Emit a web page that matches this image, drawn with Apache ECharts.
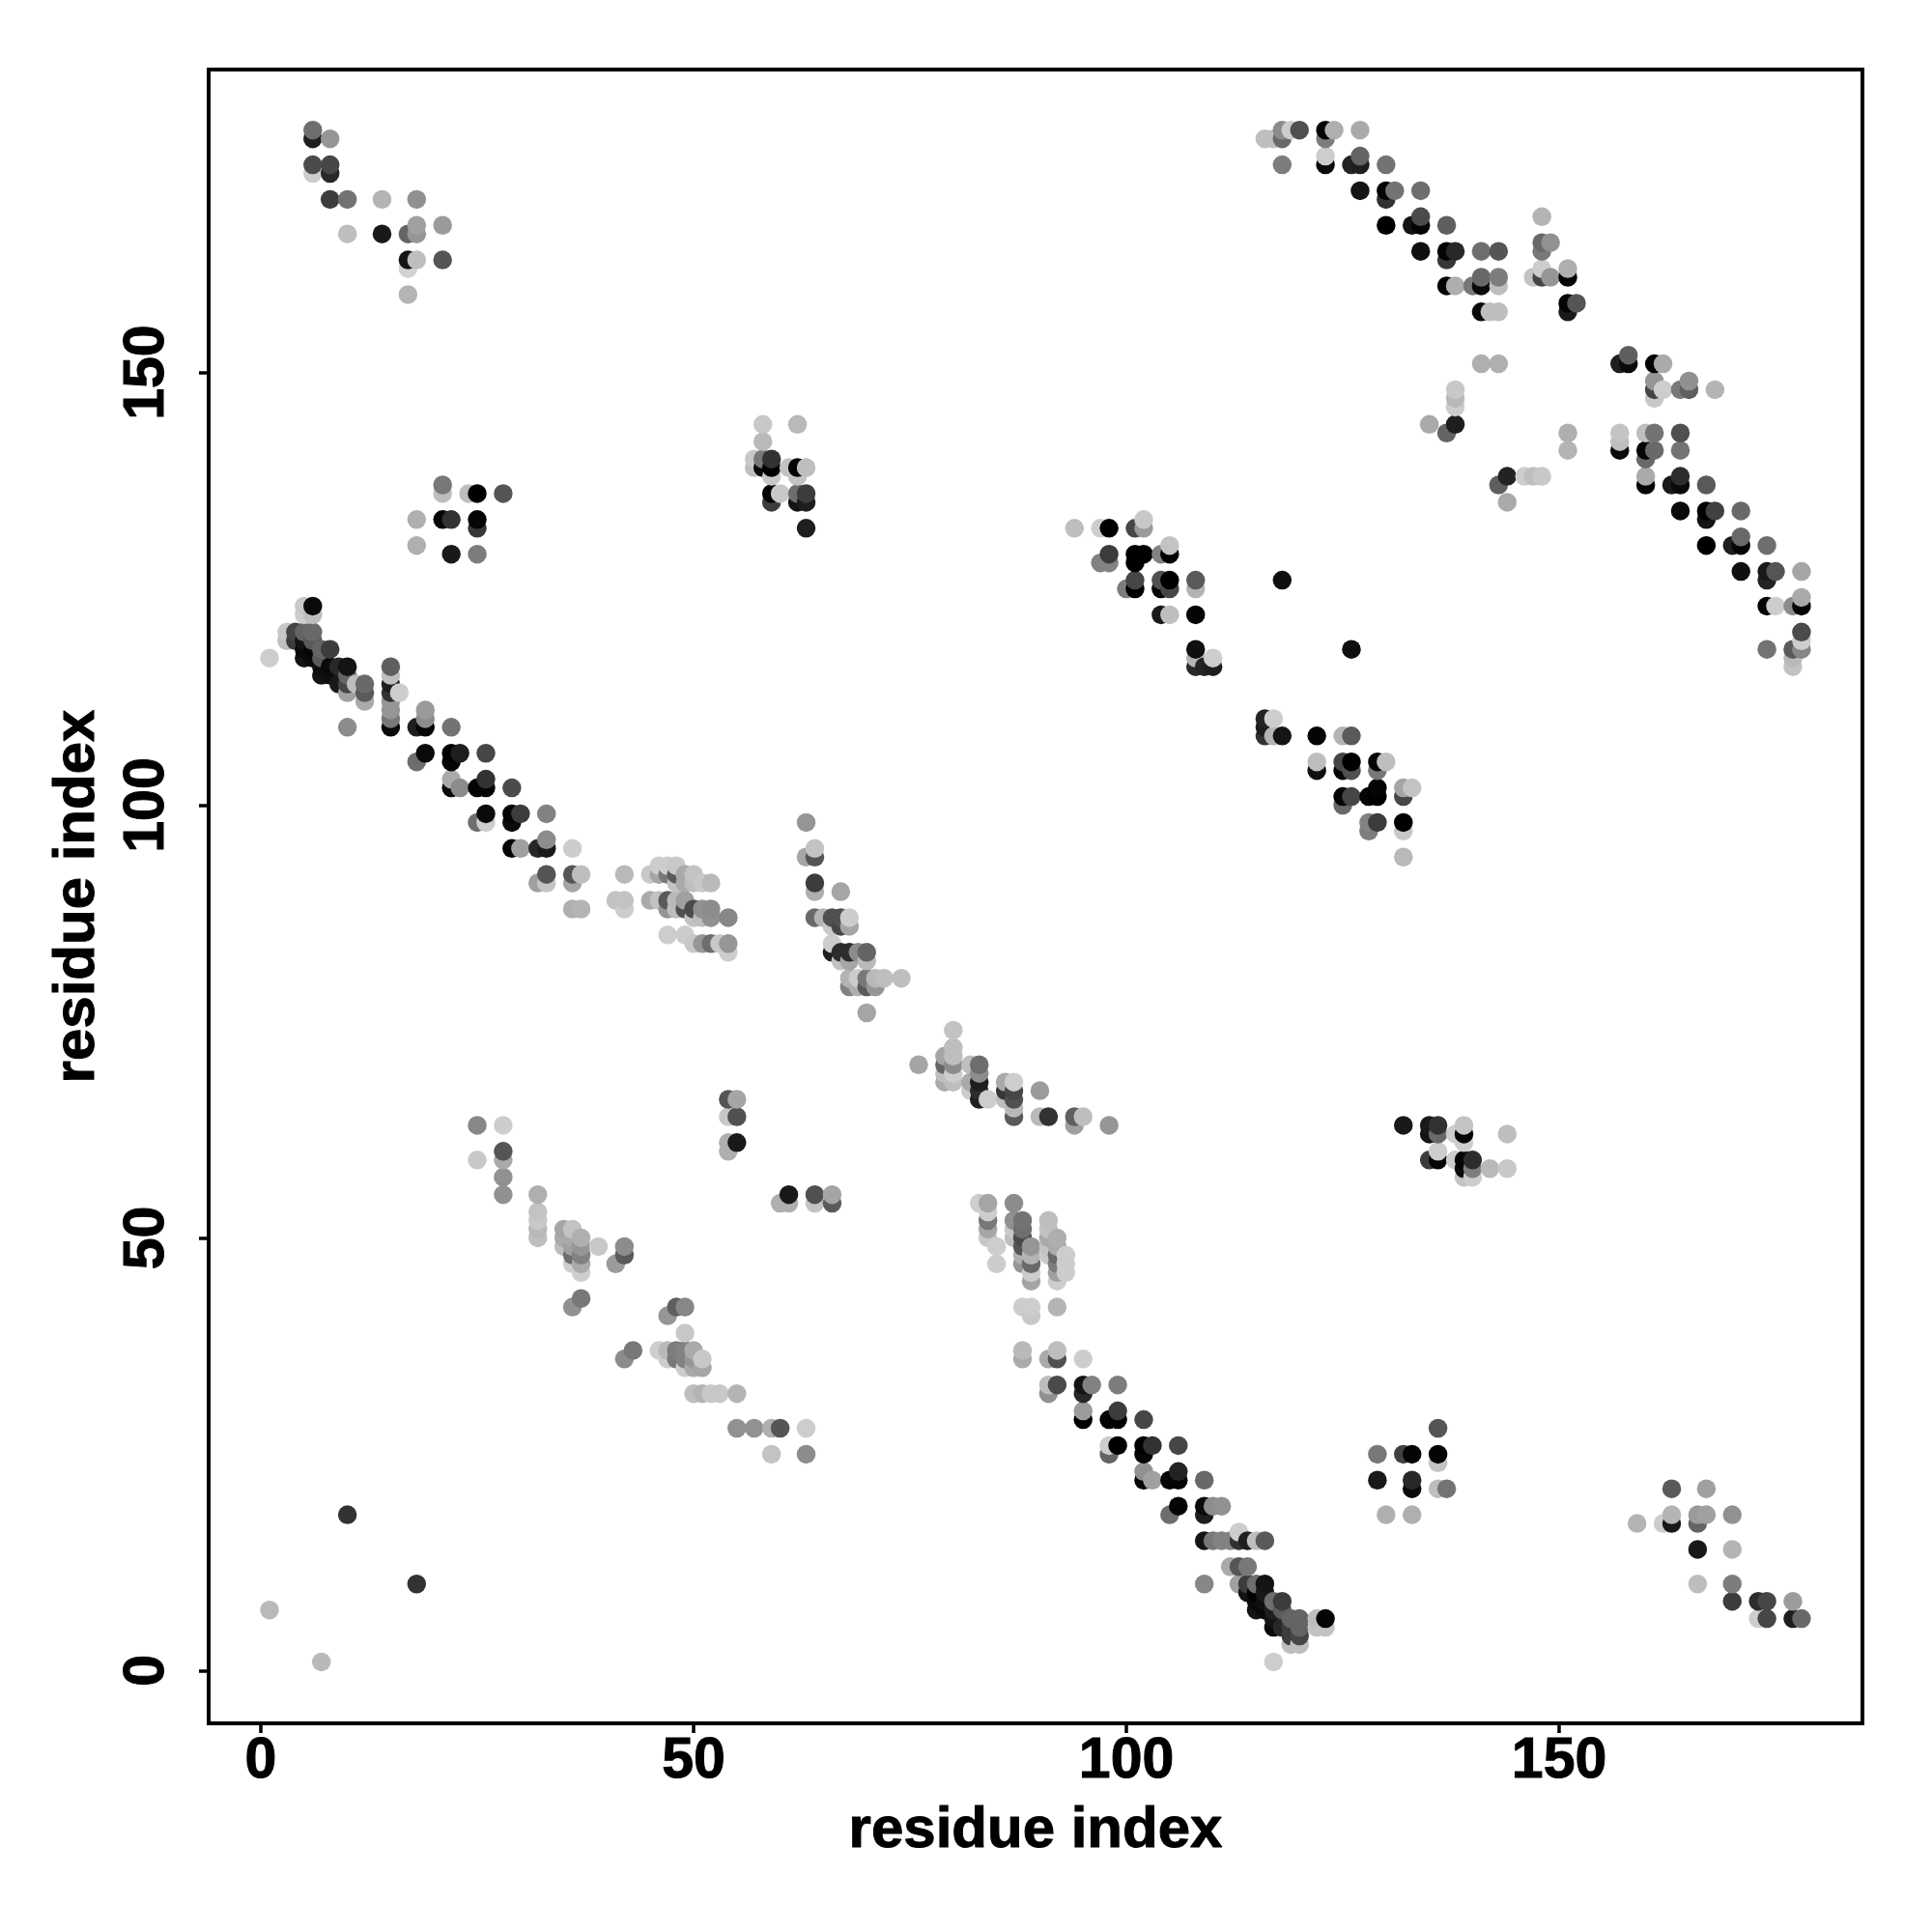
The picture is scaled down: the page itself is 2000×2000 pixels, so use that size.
<!DOCTYPE html>
<html><head><meta charset="utf-8">
<script src="https://cdn.jsdelivr.net/npm/echarts@6/dist/echarts.min.js"></script>
<style>html,body{margin:0;padding:0;background:#fff}#c{width:2000px;height:2000px}</style>
</head><body><div id="c"></div>
<script>
// each contact: [residue i, residue j, level] (level is read from the grey of the dot, 0 black .. 255 white)
const xTicks = [0, 50, 100, 150];
const yTicks = [0, 50, 100, 150];
const axisTitle = 'residue index';

const farOffDiagonal = [[1,7,185],[7,1,185],[10,18,50],[18,10,50],[118,126,15],[126,118,15]];
const topLeftA = [[6,178,110],[6,177,30],[8,177,150],[6,174,75],[6,173,205],[8,174,70],[8,173,40],[8,170,60],[10,170,115],[14,170,180],[18,170,145],
 [10,166,190],[14,166,25],[17,166,100],[18,166,150],[18,167,160],[21,167,155],[17,163,20],[18,163,190],[17,162,210],[21,163,85],[17,159,180]];
const topLeftB = [[21,137,120],[21,136,190],[24,136,190],[25,136,0],[28,136,85],[18,133,175],[21,133,5],[22,133,50],[25,133,5],[25,132,55],[18,130,175],[22,129,25],[25,129,125]];
const topMid = [[58,144,200],[62,144,185],[58,142,185],[57,140,200],[57,139,190],[58,140,120],[59,140,50],[58,139,10],[59,139,0],[59,138,200],[61,139,195],[62,139,5],[63,139,190],[62,138,195],
 [60,136,200],[59,136,5],[59,135,60],[62,136,110],[63,136,60],[62,135,20],[63,135,30],[63,132,30]];
const topRightBand = [[116,177,190],[117,177,190],[118,178,140],[118,177,105],[119,178,205],[120,178,80],[118,174,125],[123,178,5],[124,178,175],[123,177,125],[127,178,170],[123,175,205],[123,174,10],[126,174,35],[127,174,30],[127,175,100],[130,174,115],
 [127,171,20],[130,171,5],[130,170,50],[131,171,115],[134,171,110],[130,167,0],[133,167,20],[134,167,5],[134,168,75],[137,167,95],[134,164,15],[137,164,5],[137,163,55],[138,164,40],[141,164,110],[143,164,85],
 [137,160,5],[138,160,175],[140,160,120],[141,160,10],[141,161,105],[143,161,125],[143,160,190],[141,157,10],[142,157,190],[143,157,190],[141,151,175],[143,151,175]];
const topRightSpur = [[148,168,180],[148,165,105],[149,165,145],[148,164,120],[147,161,195],[148,162,205],[148,161,70],[149,161,150],[151,162,175],[151,161,5],[151,158,5],[151,157,25],[152,158,85]];
const rightBand = [[157,151,30],[158,151,10],[158,152,95],[161,151,5],[162,151,170],[161,149,150],[161,148,70],[161,147,200],[162,148,205],[164,148,120],[165,149,145],[165,148,95],[168,148,180],
 [157,143,195],[157,142,190],[157,141,10],[160,143,190],[161,143,115],[164,143,80],[160,141,5],[161,141,105],[160,140,105],[164,141,115],[160,138,170],[160,137,5],[163,137,25],[164,138,45],[164,137,10],[167,137,90],
 [164,134,10],[167,134,0],[167,133,20],[168,134,65],[171,134,105],[167,130,0],[170,130,30],[171,130,5],[171,131,105],[174,130,110],[171,127,15],[174,127,25],[174,126,35],[175,127,85],[178,127,165],
 [174,123,5],[175,123,205],[177,123,140],[178,123,5],[178,124,170],[178,120,75],[178,119,205],[178,118,135],[177,118,90],[174,118,115],[177,117,185],[177,116,195]];
const midRightSmall = [[138,148,200],[138,147,185],[138,146,205],[135,144,170],[137,143,100],[138,144,30],[151,143,175],[151,141,180],[144,138,35],[143,137,95],[146,138,205],[147,138,190],[148,138,200],[144,135,170]];
const centreUpper = [[94,132,190],[97,132,205],[98,132,0],[101,132,70],[102,132,155],[102,133,200],[98,129,60],[97,128,130],[98,128,130],[101,129,0],[102,129,0],[101,128,0],[104,129,130],[105,129,0],[105,130,195],
 [100,125,125],[101,126,70],[101,125,0],[104,126,80],[105,126,0],[104,125,5],[105,125,70],[108,126,90],[108,125,180],[104,122,25],[105,122,190],[108,122,5],[108,118,15],[108,117,180],[108,116,40],[109,116,35],[110,116,30],[110,117,205]];
const centreLower = [[116,110,35],[116,109,30],[116,108,50],[117,110,205],[117,108,180],[118,108,20],[122,108,5],[125,108,180],[126,108,90],[122,105,190],[122,104,15],[125,105,70],[126,105,0],[125,104,5],[126,104,80],
 [129,105,5],[130,105,190],[129,104,120],[132,102,165],[133,102,195],[132,101,70],[128,101,5],[129,102,5],[129,101,0],[125,101,5],[126,101,70],[125,100,105],[128,98,130],[129,98,60],[128,97,125],[132,98,0],[132,97,200],[132,94,185]];
const diagonalUpper = [[6,123,10],[5,123,200],[5,122,205],[6,122,190],[3,120,200],[3,119,190],[1,117,205],[4,120,70],[4,119,60],[5,120,100],[6,120,105],[5,119,20],[5,118,10],[5,117,20],[6,119,90],[6,118,5],[6,117,10],[7,118,100],[8,118,60],[7,117,90],[7,116,15],[7,115,20],[8,116,10],[8,115,15],[9,116,40],[10,116,20],[9,114,25],[10,115,100],[10,114,70],[10,113,160],[11,114,190],[12,114,105],[12,113,90],[12,112,170],
 [15,116,95],[15,115,190],[15,114,30],[15,113,50],[16,113,205],[15,112,150],[15,111,150],[15,110,120],[15,109,10],[10,109,140],[18,109,30],[19,109,5],[19,111,155],[19,110,140],[22,109,115],
 [19,106,10],[18,105,110],[22,106,0],[22,105,5],[23,106,30],[26,106,70],[22,103,170],[22,102,10],[23,102,140],[25,102,5],[26,103,50],[26,102,5],[29,102,75],[25,98,110],[26,99,10],[26,98,205],[29,99,5],[29,98,10],[30,99,60],[33,99,130],
 [29,95,5],[30,95,160],[32,95,40],[33,95,25],[33,96,140],[36,95,205],[33,92,85],[32,91,160],[33,91,195],[36,92,85],[37,92,190],[36,91,165],[36,88,175],[37,88,180]];
const midBandA = [[42,92,185],[41,89,195],[42,89,195],[42,88,205],[45,92,200],[46,93,205],[46,92,165],[47,93,205],[47,92,120],[48,93,200],[48,92,90],[48,91,195],[49,92,170],[49,91,170],[50,92,195],[50,91,190],[51,91,200],[52,91,185],
 [45,89,170],[46,89,195],[47,89,90],[47,88,150],[48,89,185],[48,88,190],[49,89,160],[49,88,80],[50,88,75],[50,87,195],[51,88,145],[51,87,190],[52,88,140],[52,87,145],[54,87,135],[47,85,205],[49,85,205],[50,84,200],[51,84,150],[52,84,110],[53,84,200],[54,84,150],[54,83,205]];
const midBandB = [[63,98,150],[63,94,165],[64,95,195],[64,94,85],[64,91,60],[64,90,175],[67,90,165],[64,87,105],[65,87,180],[66,87,80],[67,87,80],[68,87,205],[66,86,200],[67,86,70],[68,86,165],
 [66,84,205],[66,83,30],[67,83,45],[68,83,45],[69,83,140],[70,83,100],[67,82,195],[68,82,165],[70,82,185],[68,80,180],[69,80,205],[70,80,120],[71,80,185],[72,80,190],[74,80,190],[68,79,130],[69,79,175],[70,79,90],[71,79,150],[70,76,165]];
const midBandC = [[76,70,165],[80,74,195],[79,71,165],[80,72,190],[80,71,190],[79,70,100],[80,70,140],[79,69,190],[80,69,205],[79,68,170],[80,68,190],[82,70,190],[83,70,110],[83,69,140],[82,68,170],[83,68,30],[82,67,205],[83,67,45],[83,66,30],[84,66,205],
 [86,68,170],[87,68,205],[86,67,55],[87,67,70],[86,66,190],[87,66,80],[87,65,185],[87,64,90],[90,67,155],[90,64,185],[91,64,50],[94,64,95],[95,64,190],[94,63,160],[98,63,150]];
const lowerLeftA = [[25,63,135],[28,63,205],[25,59,200],[28,60,85],[28,59,170],[28,57,145],[28,55,145],[32,55,175],[32,53,195],[32,52,200],[32,51,185],[32,50,190],[35,51,165],[35,50,170],[35,49,190],[36,51,195],[36,50,170],[36,49,160],[36,48,110],[36,47,205],[37,50,175],[37,49,150],[37,48,130],[37,47,170],[37,46,205],[39,49,200],[42,49,140],[42,48,90],[41,47,155],[36,42,145],[37,43,120]];
const lowerLeftB = [[47,41,150],[48,42,95],[49,42,135],[49,39,200],[42,36,140],[43,37,120],[46,37,205],[47,37,185],[47,36,205],[48,37,125],[48,36,120],[49,37,130],[49,36,130],[49,35,205],[50,37,170],[50,36,150],[50,35,170],[51,36,200],[51,35,165],[50,32,190],[51,32,180],[52,32,200],[53,32,200],[55,32,180],[55,28,145],[57,28,145],[59,28,175],[60,28,85],[63,28,205],[59,25,195],[63,25,140]];
const lowerMid = [[54,66,85],[55,66,165],[54,64,200],[55,64,80],[54,61,175],[55,61,25],[54,60,175],[60,54,175],[61,55,25],[61,54,175],[64,55,80],[64,54,195],[66,55,165],[66,54,90]];
const midRightLower = [[132,63,25],[135,63,25],[136,63,50],[135,62,20],[136,62,105],[138,62,205],[139,63,195],[139,62,5],[139,61,205],[144,62,190],[136,60,205],[135,59,60],[136,59,5],[138,59,205],[139,59,5],[140,59,45],[139,58,10],[140,58,125],[139,57,195],[140,57,205],[142,58,185],[144,58,200]];
const lowerBandA = [[83,54,205],[84,54,165],[84,53,205],[84,52,120],[84,51,165],[84,50,200],[85,49,205],[85,47,205],[87,54,140],[87,52,145],[88,52,115],[87,51,200],[88,51,110],[87,50,190],[88,50,75],[88,49,85],[88,48,175],[88,47,150],[89,49,150],[89,48,180],[89,47,105],[89,46,205],[89,45,165],
 [91,52,190],[91,51,195],[91,50,170],[91,49,195],[91,48,200],[92,50,175],[92,49,170],[92,48,105],[92,47,125],[92,46,160],[92,45,205],[93,48,205],[93,47,205],[93,46,205],[88,42,205],[89,42,205],[89,41,200],[92,42,180]];
const lowerBandB = [[88,37,185],[88,36,170],[91,36,170],[92,37,190],[92,36,80],[95,36,205],[91,33,190],[92,33,75],[91,32,145],[95,33,20],[96,33,130],[95,32,40],[99,33,125],[95,30,155],[95,29,0],[98,29,5],[99,29,0],[99,30,60],[102,29,70],[98,26,205],[98,25,100],[99,26,0],[102,26,0],[102,25,5],[103,26,50],[106,26,70],
 [102,23,145],[102,22,5],[103,22,160],[105,22,5],[106,22,5],[106,23,35],[109,22,105],[105,18,110],[106,19,5],[109,19,10],[109,18,30],[110,19,140],[111,19,145],[109,15,20],[110,15,120],[111,15,130],[112,15,130],[113,16,205],[113,15,50],[114,15,30],[115,15,190],[116,15,90]];
const lowerBandC = [[112,12,170],[113,12,85],[114,12,120],[109,10,135],[113,10,160],[114,10,60],[115,10,110],[116,10,20],[114,9,20],[115,9,0],[116,9,25],[115,8,10],[116,8,15],[117,8,110],[118,8,60],[115,7,20],[116,7,10],[117,7,30],[118,7,90],[117,6,20],[117,5,10],[118,5,40],[119,6,100],[120,6,100],[119,5,60],[120,5,100],[119,4,60],[120,4,70],[119,3,190],[120,3,190],[122,6,190],[123,6,5],[122,5,195],[123,5,195],[117,1,205]];
const lowerRightA = [[129,25,120],[132,25,65],[133,25,5],[136,25,5],[136,28,85],[136,24,195],[129,22,25],[133,22,40],[133,21,10],[136,21,190],[137,21,115],[130,18,175],[133,18,175]];
const lowerRightB = [[159,17,180],[162,17,205],[163,18,180],[163,17,25],[163,21,90],[167,21,160],[166,18,155],[167,18,160],[166,17,100],[170,18,145],[166,14,25],[170,14,180],[166,10,190],[170,10,125],[170,8,60],[173,8,45],[174,8,70],[177,8,155],[173,6,205],[174,6,70],[177,6,30],[178,6,105]];

const contacts = [].concat(farOffDiagonal, topLeftA, topLeftB, topMid, topRightBand, topRightSpur, rightBand, midRightSmall,
  centreUpper, centreLower, diagonalUpper, midBandA, midBandB, midBandC, lowerLeftA, lowerLeftB, lowerMid, midRightLower,
  lowerBandA, lowerBandB, lowerBandC, lowerRightA, lowerRightB)
  .sort((a, b) => a[0] - b[0] || a[1] - b[1]);

const font = '"Liberation Sans", Arial, sans-serif';
const textStyle = {fontFamily: font, fontWeight: 'bold', color: '#000', textBorderColor: '#000', textBorderWidth: 1};
const chart = echarts.init(document.getElementById('c'), null, {renderer: 'canvas'});
chart.setOption({
  animation: false,
  backgroundColor: '#fff',
  grid: {left: 216, top: 72, width: 1712, height: 1712, show: true, backgroundColor: 'transparent', borderColor: '#000', borderWidth: 4, containLabel: false},
  visualMap: {show: false, dimension: 2, min: 0, max: 255, seriesIndex: 0, inRange: {color: ['#000000', '#ffffff']}},
  xAxis: {
    type: 'value', min: -6.03, max: 185.04,
    name: axisTitle, nameLocation: 'middle', nameGap: 81,
    nameTextStyle: Object.assign({fontSize: 60}, textStyle),
    axisLine: {show: true, onZero: false, lineStyle: {color: '#000', width: 4}},
    axisTick: {show: true, length: 10, inside: false, customValues: xTicks, lineStyle: {color: '#000', width: 3.5}},
    axisLabel: Object.assign({show: true, customValues: xTicks, margin: 10, fontSize: 59, hideOverlap: false, formatter: v => String(v)}, textStyle),
    splitLine: {show: false}
  },
  yAxis: {
    type: 'value', min: -6.1, max: 185,
    name: axisTitle, nameLocation: 'middle', nameGap: 106, nameRotate: 90,
    nameTextStyle: Object.assign({fontSize: 60}, textStyle),
    axisLine: {show: true, onZero: false, lineStyle: {color: '#000', width: 4}},
    axisTick: {show: true, length: 10, inside: false, customValues: yTicks, lineStyle: {color: '#000', width: 3.5}},
    axisLabel: Object.assign({show: true, customValues: yTicks, rotate: 90, margin: 34, fontSize: 59, hideOverlap: false, formatter: v => String(v)}, textStyle),
    splitLine: {show: false}
  },
  series: [{
    type: 'scatter', symbol: 'circle', symbolSize: 19.5, data: contacts, silent: true,
    encode: {x: 0, y: 1}, large: false, progressive: 0, clip: true,
    itemStyle: {opacity: 1, borderWidth: 0}
  }]
});
</script></body></html>
